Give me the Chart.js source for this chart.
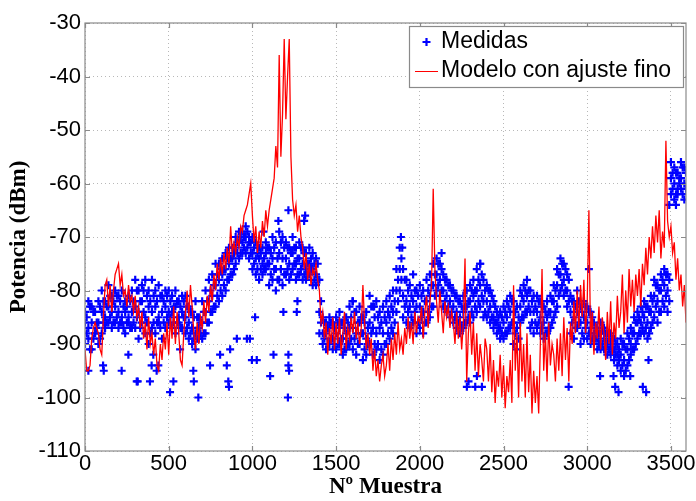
<!DOCTYPE html>
<html lang="es">
<head>
    <meta charset="UTF-8">
    <title>Potencia medida y modelo con ajuste fino</title>
    <style>
        html, body { margin: 0; padding: 0; background: #ffffff; }
        #contenedor { width: 696px; height: 501px; position: relative; }
    </style>
</head>
<body>
    <div id="contenedor">
        <canvas id="graficaPotencia" width="696" height="501"></canvas>
    </div>

    <script src="https://cdn.jsdelivr.net/npm/chart.js"></script>
    <script>
        // Datos
        const pasoModelo = 10;   // una muestra del modelo cada 10
        const pasoMedidas = 20;  // una columna de medidas cada 20

        // Modelo con ajuste fino (dBm), muestras 0, 10, 20 ... 3590
        const modelo = [
            -91, -95, -95, -94, -89, -87, -86, -87, -88, -91,
            -92, -85, -79, -78, -83, -79, -84, -80, -77, -76,
            -75, -79, -77, -81, -80, -83, -79, -82, -81, -84,
            -81, -85, -83, -87, -84, -89, -86, -91, -85, -90,
            -88, -92, -89, -94, -95, -90, -93, -88, -91, -86,
            -92, -85, -89, -83, -90, -84, -88, -93, -94, -88,
            -84, -80, -85, -79, -83, -88, -91, -86, -90, -85,
            -87, -82, -86, -81, -84, -79, -82, -77, -80, -75,
            -78, -74, -77, -73, -76, -72, -75, -68, -73, -71,
            -73, -70, -72, -68, -69, -66, -65, -64, -62, -60,
            -66, -71, -68, -73, -69, -72, -67, -70, -65, -68,
            -65, -63, -61, -59, -53, -57, -36, -55, -47, -33,
            -48, -40, -33, -55, -63, -66, -64, -69, -66, -70,
            -72, -76, -73, -78, -75, -79, -76, -77, -75, -78,
            -80, -86, -84, -89, -86, -92, -87, -90, -85, -91,
            -86, -90, -85, -92, -88, -84, -91, -87, -89, -85,
            -88, -84, -89, -86, -90, -87, -79, -86, -91, -88,
            -92, -89, -95, -91, -96, -93, -97, -94, -92, -96,
            -94, -90, -95, -89, -93, -88, -92, -86, -91, -89,
            -92, -87, -90, -85, -89, -86, -90, -84, -88, -85,
            -86, -83, -89, -84, -81, -87, -82, -79, -61, -76,
            -82, -86, -80, -84, -88, -82, -85, -83, -87, -84,
            -86, -90, -84, -89, -85, -91, -86, -74, -97, -88,
            -84, -92, -86, -95, -88, -96, -90, -93, -97, -89,
            -91, -97, -90, -99, -93, -101, -95, -98, -92, -100,
            -94, -102, -96, -99, -93, -101, -79, -95, -88, -100,
            -86, -97, -90, -100, -88, -99, -92, -103, -95, -101,
            -96, -103, -90, -76, -95, -88, -97, -86, -94, -90,
            -92, -97, -89, -95, -88, -96, -85, -93, -87, -97,
            -86, -90, -82, -88, -80, -87, -79, -85, -78, -88,
            -82, -65, -90, -84, -92, -86, -89, -83, -91, -85,
            -88, -93, -84, -90, -82, -92, -86, -89, -81, -87,
            -84, -77, -88, -80, -86, -76, -83, -78, -84, -77,
            -81, -76, -83, -75, -79, -72, -77, -70, -74, -68,
            -73, -66, -71, -65, -74, -69, -72, -52, -67, -70,
            -68, -73, -71, -78, -74, -80, -77, -83, -79, -86
        ];

        // Medidas (dBm), columnas en 0, 20, 40 ... 3580: borde alto, centro y borde bajo de la nube
        const medidasSup = [
            -84, -82, -83, -84, -82,  -80, -82, -79, -81, -80,  -81, -80, -82, -81, -80,
            -78, -80, -79, -78, -80,  -78, -80, -79, -81, -80,  -80, -81, -80, -82, -81,
            -81, -83, -84, -82, -85,  -82, -80, -78, -77, -75,  -75, -74, -73, -72, -72,
            -70, -69, -69, -68, -70,  -70, -71, -72, -72, -71,  -72, -70, -71, -69, -70,
            -71, -72, -70, -72, -71,  -72, -73, -72, -73, -74,  -78, -85, -86, -85, -86,
            -85, -84, -86, -85, -83,  -82, -84, -83, -85, -84,  -81, -83, -82, -84, -83,
            -82, -81, -80, -76, -72,  -76, -78, -79, -77, -80,  -79, -80, -78, -77, -75,
            -74, -75, -77, -78, -79,  -80, -81, -82, -81, -80,  -79, -78, -76, -75, -78,
            -79, -80, -82, -84, -84,  -83, -82, -81, -82, -83,  -80, -79, -78, -80, -81,
            -81, -82, -83, -82, -81,  -79, -76, -74, -75, -77,  -81, -82, -80, -83, -82,
            -83, -84, -86, -87, -86,  -87, -88, -88, -89, -90,  -89, -90, -88, -87, -85,
            -84, -83, -82, -83, -81,  -78, -79, -77, -76, -77,  -56, -57, -58, -56, -57
        ];
        const medidasMed = [
            -86, -87, -86, -88, -86,  -84, -85, -83, -84, -83,  -84, -85, -84, -85, -84,
            -83, -84, -82, -85, -83,  -84, -83, -85, -84, -83,  -84, -84, -83, -85, -84,
            -85, -86, -87, -88, -87,  -86, -84, -82, -81, -79,  -78, -77, -76, -75, -74,
            -72, -71, -71, -70, -71,  -73, -74, -74, -75, -73,  -75, -74, -76, -73, -74,
            -74, -75, -73, -75, -74,  -75, -76, -75, -76, -77,  -84, -88, -88, -87, -89,
            -88, -87, -89, -88, -87,  -87, -88, -86, -88, -89,  -86, -87, -88, -87, -88,
            -86, -85, -84, -80, -76,  -81, -82, -83, -82, -83,  -83, -84, -82, -81, -79,
            -77, -78, -80, -81, -82,  -83, -84, -85, -84, -83,  -82, -81, -80, -79, -82,
            -82, -83, -85, -86, -87,  -86, -85, -84, -86, -87,  -83, -82, -81, -84, -84,
            -84, -85, -86, -85, -84,  -82, -79, -77, -78, -80,  -84, -85, -84, -86, -85,
            -86, -87, -88, -89, -88,  -89, -90, -90, -91, -92,  -92, -93, -91, -90, -88,
            -86, -86, -85, -86, -84,  -81, -82, -80, -79, -80,  -59, -60, -61, -59, -60
        ];
        const medidasInf = [
            -90, -89, -91, -88, -90,  -88, -87, -86, -87, -86,  -87, -86, -88, -86, -87,
            -87, -89, -86, -88, -90,  -87, -88, -86, -89, -87,  -86, -87, -88, -86, -87,
            -88, -89, -90, -91, -89,  -89, -88, -86, -84, -83,  -82, -81, -80, -78, -77,
            -75, -74, -73, -73, -74,  -76, -77, -78, -77, -76,  -79, -78, -80, -78, -79,
            -77, -78, -76, -78, -77,  -78, -78, -77, -79, -79,  -88, -90, -91, -90, -91,
            -91, -90, -92, -91, -90,  -91, -92, -90, -93, -92,  -90, -92, -91, -93, -92,
            -90, -89, -88, -84, -80,  -85, -86, -87, -86, -88,  -87, -88, -86, -85, -83,
            -80, -81, -83, -84, -85,  -86, -87, -88, -87, -86,  -86, -85, -84, -83, -85,
            -85, -86, -87, -88, -89,  -89, -88, -87, -90, -91,  -86, -85, -84, -87, -88,
            -87, -88, -89, -88, -87,  -85, -83, -80, -81, -83,  -88, -89, -87, -90, -89,
            -89, -90, -90, -91, -91,  -91, -92, -92, -93, -94,  -95, -96, -94, -92, -91,
            -89, -88, -88, -89, -87,  -85, -86, -84, -83, -84,  -62, -63, -62, -61, -63
        ];
        // Columnas intermedias en 10, 30, 50 ... 3590
        const medidasAlta2 = [
            -85, -83, -84, -86, -83,  -82, -83, -81, -82, -81,  -82, -83, -83, -82, -82,
            -80, -82, -80, -81, -82,  -81, -82, -81, -82, -81,  -82, -83, -82, -83, -82,
            -83, -84, -85, -85, -86,  -84, -82, -80, -79, -77,  -76, -76, -74, -74, -73,
            -71, -70, -70, -69, -71,  -72, -73, -73, -74, -72,  -73, -72, -74, -71, -72,
            -72, -73, -72, -74, -72,  -73, -75, -74, -75, -75,  -82, -86, -87, -86, -87,
            -86, -86, -87, -86, -85,  -84, -86, -85, -86, -87,  -83, -85, -85, -86, -85,
            -84, -83, -82, -78, -74,  -78, -80, -81, -80, -81,  -81, -82, -80, -79, -77,
            -75, -76, -78, -79, -80,  -81, -82, -83, -83, -82,  -80, -80, -78, -77, -80,
            -80, -81, -83, -85, -85,  -84, -83, -82, -84, -85,  -81, -80, -80, -82, -83,
            -82, -83, -84, -84, -82,  -80, -77, -75, -76, -78,  -82, -83, -82, -84, -83,
            -84, -85, -87, -88, -87,  -88, -89, -89, -90, -91,  -90, -91, -89, -88, -86,
            -85, -84, -83, -84, -82,  -79, -80, -78, -77, -78,  -58, -58, -59, -57, -58
        ];
        const medidasBaja2 = [
            -88, -91, -89, -87, -89,  -86, -86, -85, -86, -85,  -86, -87, -86, -87, -86,
            -85, -87, -84, -86, -88,  -86, -86, -87, -86, -85,  -85, -86, -86, -87, -85,
            -87, -88, -89, -89, -88,  -88, -86, -84, -83, -81,  -80, -79, -78, -77, -76,
            -73, -73, -72, -72, -73,  -75, -76, -76, -76, -75,  -77, -76, -78, -76, -77,
            -76, -77, -75, -77, -76,  -77, -77, -76, -78, -78,  -86, -89, -90, -89, -90,
            -90, -89, -91, -90, -89,  -89, -90, -88, -91, -90,  -88, -90, -90, -91, -90,
            -88, -87, -86, -82, -78,  -83, -84, -85, -84, -86,  -85, -86, -84, -83, -81,
            -79, -80, -82, -83, -84,  -85, -86, -87, -86, -85,  -84, -83, -82, -81, -84,
            -84, -85, -86, -87, -88,  -88, -87, -86, -88, -89,  -85, -84, -83, -86, -86,
            -86, -87, -88, -87, -86,  -84, -81, -79, -80, -82,  -86, -87, -86, -88, -87,
            -88, -89, -89, -90, -90,  -90, -91, -91, -92, -93,  -94, -95, -93, -91, -90,
            -88, -87, -87, -88, -86,  -83, -84, -82, -81, -82,  -61, -62, -60, -62, -61
        ];

        // Medidas sueltas fuera de la nube principal
        const atipicosX = [20, 108, 112, 219, 259, 309, 315, 388, 398, 408, 428, 438, 508, 528, 568,
            647, 650, 677, 747, 807, 847, 856, 860, 867, 907, 967, 985, 997, 1016, 1026,
            1066, 1106, 1126, 1155, 1185, 1215, 1215, 1215, 1212, 1219, 1265, 1269, 1309, 1315, 1598,
            1727, 1887, 1895, 2130, 2281, 2291, 2331, 2341, 2361, 2371, 2889, 3010, 3077, 3157, 3167,
            3187, 3257, 3332, 3352, 3366, 3490, 3530];
        const atipicosY = [-95, -94, -95, -95, -92, -97, -97, -97, -94, -92, -95, -94, -99, -97, -91,
            -95, -97, -100, -94, -92, -94, -97, -98, -91, -89, -89, -89, -93, -85, -93,
            -69, -96, -92, -67, -84, -92, -94, -65, -100, -95, -84, -82, -67, -66, -82,
            -83, -70, -72, -73, -98, -97, -98, -96, -75, -98, -98, -76, -96, -96, -98,
            -99, -96, -98, -99, -93, -64, -64];

        const ticksX = [0, 500, 1000, 1500, 2000, 2500, 3000, 3500];
        const ticksY = [-110, -100, -90, -80, -70, -60, -50, -40, -30];

        // Construir puntos para Chart.js
        const puntosModelo = modelo.map((v, i) => ({ x: i * pasoModelo, y: v }));
        const puntosMedidas = [];
        [medidasSup, medidasMed, medidasInf].forEach(serie => {
            serie.forEach((v, i) => puntosMedidas.push({ x: i * pasoMedidas, y: v }));
        });
        [medidasAlta2, medidasBaja2].forEach(serie => {
            serie.forEach((v, i) => puntosMedidas.push({ x: i * pasoMedidas + 10, y: v }));
        });
        atipicosX.forEach((x, i) => puntosMedidas.push({ x: x, y: atipicosY[i] }));

        const fuenteEjes = "Arial, 'Liberation Sans', sans-serif";
        const fuenteTitulos = "'Times New Roman', 'Liberation Serif', serif";

        // Caja de ejes estilo MATLAB, marcas hacia dentro y leyenda con recuadro
        const marcoMatlab = {
            id: 'marcoMatlab',
            afterDatasetsDraw(chart) {
                const ctx = chart.ctx;
                const a = chart.chartArea;
                const sx = chart.scales.x, sy = chart.scales.y;
                ctx.save();
                ctx.strokeStyle = '#8a8a8a';
                ctx.lineWidth = 1.2;
                ctx.strokeRect(a.left, a.top, a.right - a.left, a.bottom - a.top);
                ctx.beginPath();
                ticksX.forEach(t => {
                    const px = Math.round(sx.getPixelForValue(t)) + 0.5;
                    ctx.moveTo(px, a.bottom); ctx.lineTo(px, a.bottom - 5);
                    ctx.moveTo(px, a.top); ctx.lineTo(px, a.top + 5);
                });
                ticksY.forEach(t => {
                    const py = Math.round(sy.getPixelForValue(t)) + 0.5;
                    ctx.moveTo(a.left, py); ctx.lineTo(a.left + 5, py);
                    ctx.moveTo(a.right, py); ctx.lineTo(a.right - 5, py);
                });
                ctx.stroke();
                ctx.restore();
            },
            afterDraw(chart) {
                const ctx = chart.ctx;
                ctx.save();
                // recuadro de la leyenda
                ctx.fillStyle = '#ffffff';
                ctx.fillRect(409, 26, 274, 61);
                ctx.strokeStyle = '#8a8a8a';
                ctx.lineWidth = 1.2;
                ctx.strokeRect(409.5, 26.5, 274, 61);
                // Medidas
                ctx.strokeStyle = '#0000ff';
                ctx.lineWidth = 2.2;
                ctx.beginPath();
                ctx.moveTo(422.5, 42); ctx.lineTo(430.5, 42);
                ctx.moveTo(426.5, 38); ctx.lineTo(426.5, 46);
                ctx.stroke();
                // Modelo
                ctx.strokeStyle = '#ff0000';
                ctx.lineWidth = 1;
                ctx.beginPath();
                ctx.moveTo(415, 71.5); ctx.lineTo(438, 71.5);
                ctx.stroke();
                ctx.fillStyle = '#000000';
                ctx.font = '23px ' + fuenteEjes;
                ctx.textBaseline = 'middle';
                ctx.textAlign = 'left';
                ctx.fillText('Medidas', 441, 42);
                ctx.fillText('Modelo con ajuste fino', 441, 71);
                ctx.restore();
            }
        };

        new Chart(document.getElementById('graficaPotencia'), {
            type: 'scatter',
            data: {
                datasets: [
                    {
                        label: 'Modelo con ajuste fino',
                        data: puntosModelo,
                        showLine: true,
                        borderColor: '#ff0000',
                        backgroundColor: '#ff0000',
                        borderWidth: 1.3,
                        pointRadius: 0,
                        tension: 0,
                        order: 0
                    },
                    {
                        label: 'Medidas',
                        data: puntosMedidas,
                        showLine: false,
                        pointStyle: 'cross',
                        pointRadius: 4,
                        borderWidth: 2.2,
                        borderColor: '#0000ff',
                        backgroundColor: '#0000ff',
                        order: 1
                    }
                ]
            },
            options: {
                responsive: false,
                animation: false,
                events: [],
                layout: { padding: { top: 23, right: 10, bottom: 0, left: 0 } },
                plugins: {
                    legend: { display: false },
                    tooltip: { enabled: false }
                },
                scales: {
                    x: {
                        type: 'linear',
                        min: 0,
                        max: 3590,
                        afterBuildTicks: s => { s.ticks = ticksX.map(v => ({ value: v })); },
                        afterFit: s => { s.height = 50; },
                        ticks: {
                            color: '#000000',
                            padding: 0,
                            maxRotation: 0,
                            callback: v => String(v),
                            font: { family: fuenteEjes, size: 22 }
                        },
                        grid: { color: 'rgba(0,0,0,0.28)', lineWidth: 1, drawTicks: false },
                        border: { display: false, dash: [1, 3] },
                        title: {
                            display: true,
                            text: 'Nº Muestra',
                            color: '#000000',
                            padding: { top: 0, bottom: 0 },
                            font: { family: fuenteTitulos, size: 23, weight: 'bold' }
                        }
                    },
                    y: {
                        type: 'linear',
                        min: -110,
                        max: -30,
                        afterBuildTicks: s => { s.ticks = ticksY.map(v => ({ value: v })); },
                        afterFit: s => { s.width = 85; },
                        ticks: {
                            color: '#000000',
                            padding: 4,
                            callback: v => String(v),
                            font: { family: fuenteEjes, size: 22 }
                        },
                        grid: { color: 'rgba(0,0,0,0.28)', lineWidth: 1, drawTicks: false },
                        border: { display: false, dash: [1, 3] },
                        title: {
                            display: true,
                            text: 'Potencia (dBm)',
                            color: '#000000',
                            padding: { top: 5, bottom: 0 },
                            font: { family: fuenteTitulos, size: 23, weight: 'bold' }
                        }
                    }
                }
            },
            plugins: [marcoMatlab]
        });
    </script>
</body>
</html>
